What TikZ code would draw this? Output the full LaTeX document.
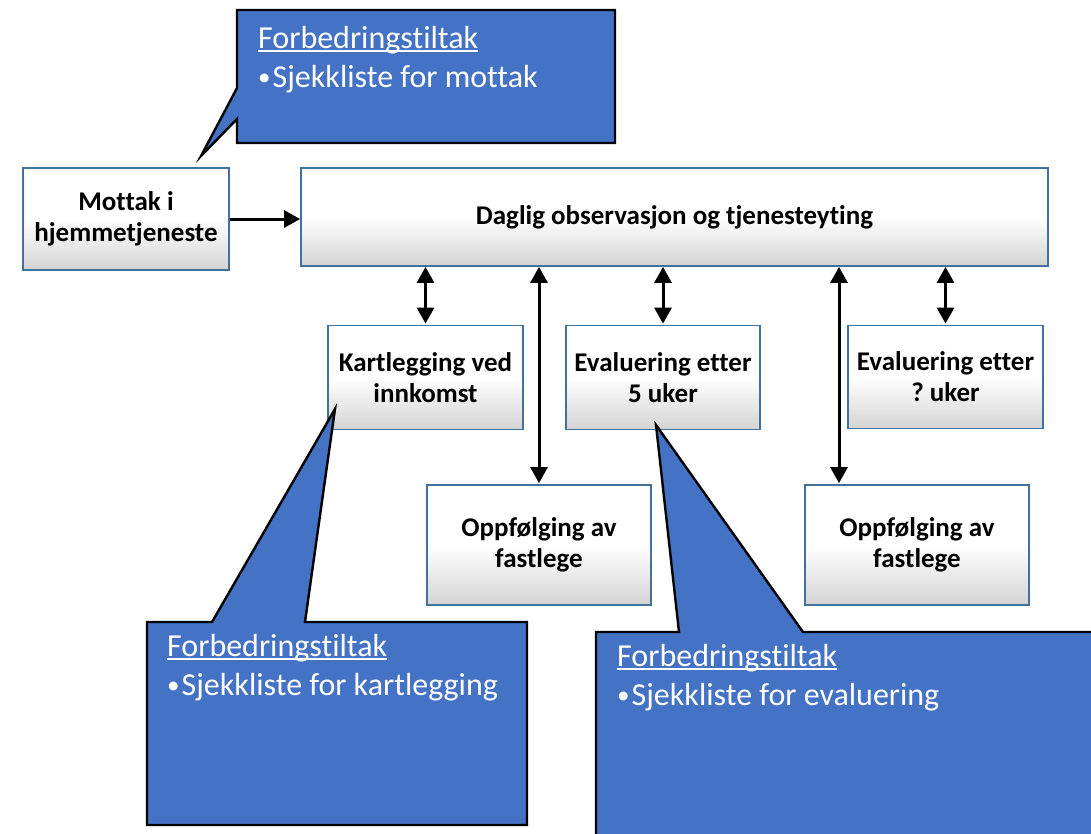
\documentclass[tikz,border=0pt]{standalone}
\usepackage{fontspec}
\setmainfont{Carlito}[Ligatures=NoCommon]
\usetikzlibrary{arrows.meta}
\definecolor{boxline}{HTML}{41719C}
\definecolor{tiltakblue}{HTML}{4472C4}
\newcommand{\ulword}[1]{\setbox0\hbox{#1}\rlap{\rule[-4pt]{\wd0}{1.6pt}}\box0}
\newcommand{\tiltakbullet}{\raisebox{1.5pt}{\fontsize{25}{25}\selectfont\textbullet}\hspace{2pt}}
\frenchspacing

\begin{document}
\begin{tikzpicture}[x=1pt,y=-1pt,
  procbox/.style={draw=boxline,line width=1.8pt,top color=white,bottom color=black!17,middle color=white,
    font=\bfseries\fontsize{27}{31}\selectfont,align=center,inner sep=0pt},
  tiltak/.style={fill=tiltakblue,draw=black,line width=2.4pt,line join=miter},
  tiltaktext/.style={anchor=base west,align=left,text=white,font=\fontsize{32}{39}\selectfont,inner sep=0pt},
  link/.style={line width=3pt,{Triangle[length=16pt,width=17pt]}-{Triangle[length=16pt,width=17pt]}},
  flow/.style={line width=3pt,-{Triangle[length=16pt,width=17pt]}}]
  \clip (0,0) rectangle (1091,833);

  % boxes
  \node[procbox,minimum width=206pt,minimum height=102pt] (mottak) at (126,219) {Mottak i\\hjemmetjeneste};
  \node[procbox,minimum width=747pt,minimum height=98pt] (daglig) at (674.5,217) {Daglig observasjon og tjenesteyting};
  \node[procbox,minimum width=195pt,minimum height=104pt] (kart) at (425.5,377.5) {Kartlegging ved\\innkomst};
  \node[procbox,minimum width=194pt,minimum height=104pt] (evalfem) at (663,377.5) {Evaluering etter\\5 uker};
  \node[procbox,minimum width=195pt,minimum height=103pt] (evalq) at (945.5,377) {Evaluering etter\\? uker};
  \node[procbox,minimum width=224pt,minimum height=120pt] (oppfa) at (539,545) {Oppfølging av\\fastlege};
  \node[procbox,minimum width=224pt,minimum height=120pt] (oppfb) at (917,545) {Oppfølging av\\fastlege};

  % connectors
  \coordinate (ob) at ([xshift=-78pt]oppfb.north);
  \draw[flow] (mottak.east) -- (mottak.east -| daglig.west);
  \draw[link,shorten <=1pt] (kart.north) -- (kart.north |- daglig.south);
  \draw[link,shorten <=1pt] (oppfa.north) -- (oppfa.north |- daglig.south);
  \draw[link,shorten <=1pt] (evalfem.north) -- (evalfem.north |- daglig.south);
  \draw[link,shorten <=1pt] (ob) -- (ob |- daglig.south);
  \draw[link,shorten <=1pt] (evalq.north) -- (evalq.north |- daglig.south);

  % callouts
  \coordinate (tipmottak) at (201,156);
  \coordinate (tipkart) at (335,409);
  \coordinate (tipeval) at (656,425);
  \draw[tiltak] (237,10) -- (615,10) -- (615,143) -- (237,143) -- (237,119) -- (tipmottak) -- (237,88) -- cycle;
  \draw[tiltak] (147,622) -- (212,622) -- (tipkart) -- (305,622) -- (527,622) -- (527,825) -- (147,825) -- cycle;
  \draw[tiltak] (596,632) -- (679,632) -- (tipeval) -- (803,632) -- (1110,632) -- (1110,860) -- (596,860) -- cycle;

  \node[tiltaktext] (tmottak) at (258,87) {\ulword{Forbedringstiltak}\\\tiltakbullet Sjekkliste for mottak};
  \node[tiltaktext] (tkart) at (167,695) {\ulword{Forbedringstiltak}\\\tiltakbullet Sjekkliste for kartlegging};
  \node[tiltaktext] (teval) at (617,705) {\ulword{Forbedringstiltak}\\\tiltakbullet Sjekkliste for evaluering};
\end{tikzpicture}
\end{document}
